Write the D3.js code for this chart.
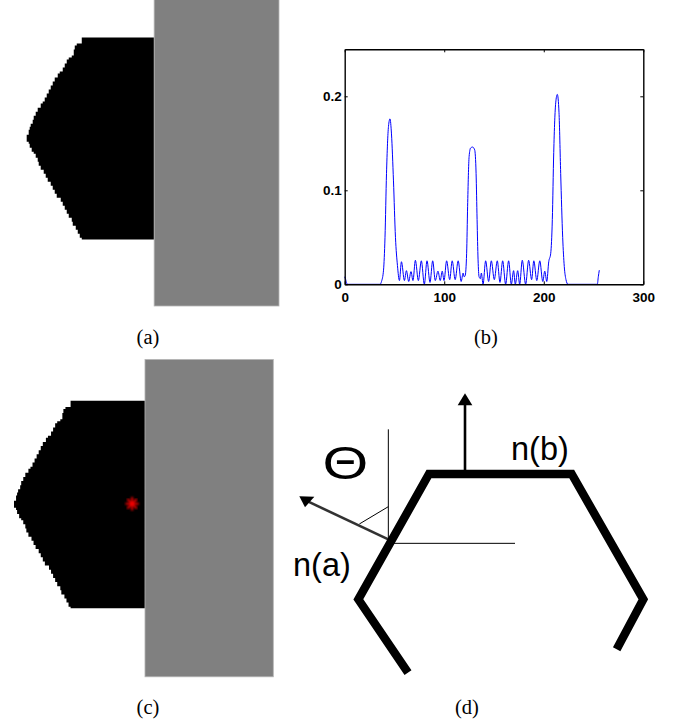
<!DOCTYPE html>
<html>
<head>
<meta charset="utf-8">
<script src="https://cdn.jsdelivr.net/npm/d3@7"></script>
<style>
  body { margin: 0; background: #fff; }
  svg { display: block; }
</style>
</head>
<body>
<div id="app"></div>
<script>
// panel (b) curve
let curveX = [0, 1, 2, 3, 35.5, 37, 39, 40.5, 42, 44, 45.5, 47, 49, 51, 53, 55, 57, 60, 62, 64.3, 66.6, 68.6, 71, 74, 77, 80, 82.7, 85.7, 88.4, 91, 93.7, 96, 98, 99.8, 102.4, 105.5, 108, 111, 114, 117, 119, 120, 121, 122.5, 123.5, 125, 126.5, 128.5, 130.6, 132, 133, 134, 135, 136.3, 137.3, 139, 141.6, 144.6, 147.3, 150.3, 153.3, 156, 158.7, 161.7, 164.7, 167.4, 169.7, 171.4, 173.8, 175.8, 178.4, 181.8, 184.8, 187.8, 190, 193, 196, 199, 201, 203, 205, 207, 208.6, 210, 212, 213.6, 215.3, 217, 219, 220.6, 222.3, 224.3, 253.8, 254.8, 255.8];
let curveY = [0.008, 0.005, 0.001, 0, 0, 0.003, 0.015, 0.05, 0.118, 0.168, 0.176, 0.16, 0.11, 0.05, 0.02, 0.004, 0.024, 0.004, 0.0145, 0.003, 0.0135, 0.004, 0.0255, 0.004, 0.025, 0, 0.025, 0.002, 0.025, 0.004, 0.014, 0.004, 0.014, 0.004, 0.025, 0.005, 0.025, 0.005, 0.025, 0.003, 0.012, 0.008, 0.009, 0.033, 0.083, 0.136, 0.145, 0.146, 0.143, 0.118, 0.069, 0.026, 0.008, 0.006, 0.012, 0, 0.025, 0.003, 0.025, 0.005, 0.025, 0.002, 0.025, 0, 0.025, 0, 0.0145, 0, 0.0145, 0, 0.0255, 0, 0.0255, 0.005, 0.025, 0.004, 0.025, 0.003, 0.014, 0.003, 0.024, 0.033, 0.069, 0.14, 0.193, 0.202, 0.183, 0.118, 0.05, 0.019, 0.005, 0, 0, 0.008, 0.015];
let xTicks = [0, 100, 200, 300];
let yTicks = [0, 0.1, 0.2];

// bitmap outline of the black shape, panels (a) and (c): bitmap rows and columns
let shapeRows = [0, 0, 3, 4, 6, 9, 10, 11, 13, 15, 17, 18, 20, 22, 24, 26, 28, 30, 32, 33, 35, 37, 39, 41, 43, 44.5, 46, 48.5, 52, 53, 55, 57, 58, 60, 62, 64, 66, 68, 70, 72, 74, 76, 78, 80, 82, 84, 86, 88, 90, 92, 94, 96, 98, 100, 100.75];
let shapeCols = [63.65, 27.5, 25, 24, 23.5, 22.5, 21, 20, 19, 18, 16.5, 15.5, 14, 13, 12, 11, 10, 9, 8, 7, 5.5, 4.5, 3.5, 3, 2, 1.5, 1, 0, 1, 1.5, 2.5, 3.5, 4.5, 5.5, 6, 7, 8.5, 9.5, 10.5, 12, 13, 14, 15, 17, 18, 19, 20, 21, 22.5, 23, 24.5, 25.5, 26.5, 27.5, 63.65];
let wallCols = [63.65, 126];
let wallRows = [-20, 134];
let starPoint = [57.4, 50];

// panel (d), in units of the drawing
let bodyPoints = [[384, 878], [235, 658], [447, 282], [875, 282], [1090, 658], [1010, 808]];
let normalB = [[555, 282], [555, 70]];
let normalBHead = [[555, 40], [533, 76], [577, 76]];
let normalA = [[325, 478], [85, 365]];
let normalAHead = [[58, 349], [103, 350], [75, 382]];
let guideLines = [
  [[325, 148], [325, 478]],
  [[325, 490], [705, 490]],
  [[238, 432], [325, 380]]
];

let captions = [
  { label: '(a)', x: 148, y: 344 },
  { label: '(b)', x: 486, y: 344 },
  { label: '(c)', x: 148, y: 714 },
  { label: '(d)', x: 467, y: 714 }
];

let svg = d3.select('#app').append('svg')
    .attr('width', 685)
    .attr('height', 726)
    .style('background', '#fff');

let defs = svg.append('defs');
defs.append('filter')
    .attr('id', 'soft')
    .append('feGaussianBlur')
    .attr('stdDeviation', 0.3);
defs.append('filter')
    .attr('id', 'softer')
    .append('feGaussianBlur')
    .attr('stdDeviation', 0.6);
defs.append('filter')
    .attr('id', 'glow')
    .append('feGaussianBlur')
    .attr('stdDeviation', 0.9);

// panels (a) and (c)
function drawBitmapPanel(xRange, yRange) {
  let x = d3.scaleLinear().domain([0, 126]).range(xRange);
  let y = d3.scaleLinear().domain([0, 134]).range(yRange);
  let g = svg.append('g');

  let outline = d3.line()
      .x(function(d) { return x(d[0]); })
      .y(function(d) { return y(d[1]); })
      .curve(d3.curveStepBefore);

  g.append('path')
      .attr('d', outline(d3.zip(shapeCols, shapeRows)) + 'Z')
      .attr('fill', '#000')
      .attr('filter', 'url(#soft)');

  g.append('rect')
      .attr('x', x(wallCols[0]))
      .attr('y', y(wallRows[0]))
      .attr('width', x(wallCols[1]) - x(wallCols[0]))
      .attr('height', y(wallRows[1]) - y(wallRows[0]))
      .attr('fill', '#808080')
      .attr('stroke', '#b4b4b4')
      .attr('stroke-width', 0.8);

  return { g: g, x: x, y: y };
}

drawBitmapPanel([26.7, 279], [37.5, 306]);
let panelC = drawBitmapPanel([14, 273.3], [400.7, 676.8]);

// the star is a plus and a cross on top of each other, eight arms
panelC.g.selectAll('path.star')
    .data([{ type: d3.symbolPlus, size: 60 }, { type: d3.symbolTimes, size: 60 }])
    .enter()
    .append('path')
      .attr('class', 'star')
      .attr('d', function(d) { return d3.symbol().type(d.type).size(d.size)(); })
      .attr('transform', `translate(${panelC.x(starPoint[0])}, ${panelC.y(starPoint[1])})`)
      .attr('fill', 'none')
      .attr('stroke', '#f00000')
      .attr('stroke-width', 2)
      .attr('filter', 'url(#glow)');

// panel (b)
let plot = { left: 344.7, right: 643.3, top: 49.3, bottom: 284.3 };

let xScale = d3.scaleLinear().domain([0, 300]).range([plot.left, plot.right]);
let yScale = d3.scaleLinear().domain([0, 0.25]).range([plot.bottom, plot.top]);

let signal = d3.line()
    .x(function(d) { return xScale(d[0]); })
    .y(function(d) { return yScale(d[1]); })
    .curve(d3.curveMonotoneX);

svg.append('path')
    .attr('d', signal(d3.zip(curveX, curveY)))
    .attr('fill', 'none')
    .attr('stroke', '#0000ff')
    .attr('stroke-width', 1);

// all four sides, ticks point inwards, only left and bottom are labelled
let axes = [
  { axis: d3.axisBottom(xScale).tickValues(xTicks).tickPadding(8), at: [0, plot.bottom], labels: true },
  { axis: d3.axisTop(xScale).tickValues(xTicks), at: [0, plot.top], labels: false },
  { axis: d3.axisLeft(yScale).tickValues(yTicks).tickPadding(3), at: [plot.left, 0], labels: true },
  { axis: d3.axisRight(yScale).tickValues(yTicks), at: [plot.right, 0], labels: false }
];

axes.forEach(function(a) {
  let g = svg.append('g')
      .attr('transform', `translate(${a.at[0]}, ${a.at[1]})`)
      .call(a.axis.tickSize(-3).tickSizeOuter(0).tickFormat(a.labels ? d3.format('') : ''));
  g.select('.domain').attr('stroke', '#000').attr('stroke-width', 1.4);
  g.selectAll('.tick line').attr('stroke', '#000').attr('stroke-width', 1);
  g.selectAll('.tick text')
      .attr('fill', '#000')
      .style('font-family', '"Liberation Sans", sans-serif')
      .style('font-weight', 'bold')
      .style('font-size', '13.5px');
});

// panel (d)
let dx = d3.scaleLinear().domain([0, 1140]).range([280, 660]);
let dy = d3.scaleLinear().domain([0, 1020]).range([380, 720]);
let drawing = svg.append('g').attr('filter', 'url(#softer)');

let sketch = d3.line()
    .x(function(d) { return dx(d[0]); })
    .y(function(d) { return dy(d[1]); });

drawing.selectAll('path.guide')
    .data(guideLines)
    .enter()
    .append('path')
      .attr('class', 'guide')
      .attr('d', sketch)
      .attr('fill', 'none')
      .attr('stroke', '#000')
      .attr('stroke-width', 1);

drawing.append('path')
    .attr('d', sketch(normalA))
    .attr('fill', 'none')
    .attr('stroke', '#333')
    .attr('stroke-width', 2.6);

drawing.append('path')
    .attr('d', sketch(normalB))
    .attr('fill', 'none')
    .attr('stroke', '#000')
    .attr('stroke-width', 2.6);

drawing.selectAll('path.head')
    .data([normalAHead, normalBHead])
    .enter()
    .append('path')
      .attr('class', 'head')
      .attr('d', function(d) { return sketch(d) + 'Z'; })
      .attr('fill', '#000');

drawing.append('path')
    .attr('d', sketch(bodyPoints))
    .attr('fill', 'none')
    .attr('stroke', '#000')
    .attr('stroke-width', 8.4)
    .attr('stroke-linejoin', 'miter');

// drawing labels
let labelFont = '"Liberation Sans", Arial, sans-serif';
svg.append('text')
    .attr('x', 511)
    .attr('y', 460)
    .style('font-family', labelFont)
    .style('font-size', '32.5px')
    .text('n(b)');
svg.append('text')
    .attr('x', 293)
    .attr('y', 576)
    .style('font-family', labelFont)
    .style('font-size', '32.5px')
    .text('n(a)');
svg.append('text')
    .attr('transform', 'translate(345.5, 479) scale(1.28, 1)')
    .attr('text-anchor', 'middle')
    .style('font-family', labelFont)
    .style('font-size', '46px')
    .text('Θ');

// captions
svg.selectAll('text.caption')
    .data(captions)
    .enter()
    .append('text')
      .attr('class', 'caption')
      .attr('x', function(d) { return d.x; })
      .attr('y', function(d) { return d.y; })
      .attr('text-anchor', 'middle')
      .style('font-family', '"Liberation Serif", "Times New Roman", serif')
      .style('font-size', '20.5px')
      .text(function(d) { return d.label; });
</script>
</body>
</html>
